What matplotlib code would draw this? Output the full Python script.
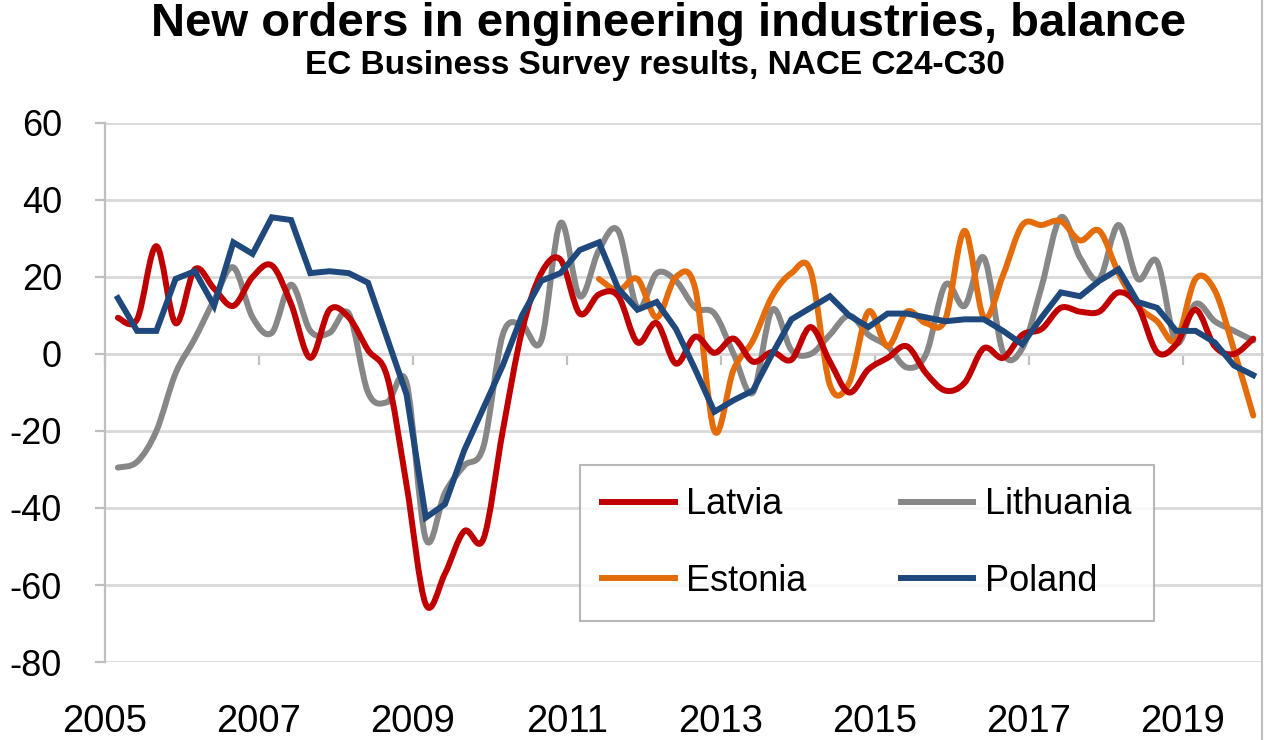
import numpy as np
import pandas as pd
import matplotlib
matplotlib.use("Agg")
import matplotlib.pyplot as plt
from matplotlib.path import Path
from matplotlib.patches import PathPatch
from matplotlib.lines import Line2D

plt.rcParams['font.family'] = ['Liberation Sans', 'DejaVu Sans']
plt.rcParams['axes.unicode_minus'] = False

# quarterly data 2005Q1 - 2019Q4, balance of replies
quarters = pd.period_range('2005Q1', '2019Q4', freq='Q')

latvia = [9.4, 9, 28, 8, 22, 17, 12.5, 20, 23, 13,
          -1, 11.5, 9.5, 1, -6, -34, -65, -57, -46, -48,
          -20, 6, 21, 24.5, 10.5, 15.5, 15, 3, 8, -2.5,
          4.5, 0.3, 4, -2, 0.5, -1.5, 7, -2, -10, -4,
          -1, 2, -5, -9.5, -7.5, 1.5, -1, 5, 6.5, 12,
          11, 11, 16, 12.5, 0.5, 2.5, 11.5, 2, 0, 4]

lithuania = [-29.5, -28, -20, -5, 4, 14, 22.5, 9.5, 5.5, 18,
             6, 5.5, 10.5, -10, -12.5, -7.5, -48, -36, -29, -24,
             5, 7.5, 3.5, 34, 15, 27, 32, 12, 21, 19,
             12, 10.5, 0, -10, 11.5, 1, 0, 5, 10, 5,
             2, -3.5, 0, 18, 12.5, 25, 0.5, 1.5, 17.5, 35.5,
             25, 19.5, 33.5, 19.5, 24, 3, 13, 8.5, 6, 3.5]

# Estonia series starts in 2011Q2
estonia = [np.nan] * 25 + [19.5, 16.5, 19.5, 9.5, 20,
                           17, -20, -4, 3.5, 15, 21, 21.5, -8, -7.5, 11,
                           2, 11, 8, 9, 32, 9.5, 20.5, 33.5, 33.5, 34.5,
                           29.5, 32, 21, 12.5, 8.5, 3.5, 19.5, 16.5, 1, -16]

poland = [14.5, 6, 6, 19.5, 21.5, 12.5, 29, 26, 35.5, 34.8,
          21, 21.5, 21, 18.5, 4, -10.5, -42.5, -39, -25, -14,
          -3, 10, 19, 21, 27, 29, 17, 11.5, 13.5, 6.5,
          -4, -15, -12, -9.5, 0, 9, 12, 15, 10, 7,
          10.5, 10.5, 9.5, 8.5, 9, 9, 6, 2.5, 9.5, 16,
          15, 19, 22, 13.5, 12, 6, 6, 3, -3, -5.5]

year_ticks = [2005, 2007, 2009, 2011, 2013, 2015, 2017, 2019]

# x position: end month of each quarter on a continuous year scale
x = np.array([q.year + (q.end_time.month - 1) / 12 for q in quarters])


def smooth_path(xs, ys):
    # Excel-like smoothed line: cubic bezier through each point
    m = ~np.isnan(ys)
    xs, ys = xs[m], ys[m]
    pts = np.column_stack([xs, ys])
    n = len(pts)
    verts = [pts[0]]
    codes = [Path.MOVETO]
    for k in range(n - 1):
        p0 = pts[k - 1] if k > 0 else pts[k]
        p1 = pts[k]
        p2 = pts[k + 1]
        p3 = pts[k + 2] if k + 2 < n else pts[k + 1]
        c1 = p1 + (p2 - p0) / 6
        c2 = p2 - (p3 - p1) / 6
        verts += [c1, c2, p2]
        codes += [Path.CURVE4] * 3
    return Path(verts, codes)


fig = plt.figure(figsize=(12.64, 7.40), dpi=100)
ax = fig.add_axes([0.0831, 0.1054, 0.9153, 0.7284])

lw = 4.3
c_lat, c_lit, c_est, c_pol = '#C00000', '#878787', '#E46C0A', '#1F497D'

for ser, col in [(lithuania, c_lit), (estonia, c_est), (latvia, c_lat)]:
    ax.add_patch(PathPatch(smooth_path(x, np.array(ser, dtype=float)),
                           facecolor='none', edgecolor=col, lw=lw,
                           joinstyle='round', capstyle='round', zorder=3))
ax.plot(x, poland, color=c_pol, lw=lw, solid_joinstyle='miter', zorder=4)

ax.set_xlim(2005, 2020.03)
ax.set_ylim(-80, 60)
ax.set_yticks(range(-80, 61, 20))
ax.grid(axis='y', color='#D9D9D9', lw=2)
ax.set_axisbelow(True)

for s in ['top', 'right', 'bottom']:
    ax.spines[s].set_visible(False)
ax.spines['left'].set_color('#BFBFBF')
ax.spines['left'].set_linewidth(1.6)

ax.tick_params(axis='y', labelsize=26, length=7, width=1.6, color='#BFBFBF', pad=24)
ax.set_xticks(year_ticks)
ax.set_xticklabels([str(y) for y in year_ticks])
ax.tick_params(axis='x', labelsize=27.5, length=0, pad=30)

# horizontal axis crosses at zero with its tick marks
sec = ax.secondary_xaxis(80 / 140)
sec.xaxis.set_ticks_position('bottom')
sec.set_xticks(year_ticks)
sec.set_xticklabels([])
sec.tick_params(axis='x', direction='out', length=8, width=1.6, color='#BFBFBF',
                labelbottom=False, labeltop=False)
for s in sec.spines.values():
    s.set_visible(False)
sec.spines['bottom'].set_visible(True)
sec.spines['bottom'].set_color('#D0D0D0')
sec.spines['bottom'].set_linewidth(2)

handles = [Line2D([], [], color=c_lat, lw=lw), Line2D([], [], color=c_est, lw=lw),
           Line2D([], [], color=c_lit, lw=lw), Line2D([], [], color=c_pol, lw=lw)]
labels = ['Latvia', 'Estonia', 'Lithuania', 'Poland']
leg = ax.legend(handles, labels, ncol=2, loc='upper left', bbox_to_anchor=(0.4105, 0.3655),
                fontsize=26, frameon=True, fancybox=False, handlelength=2.0,
                handletextpad=0.33, columnspacing=2.6, labelspacing=1.15,
                borderpad=0.62, borderaxespad=0)
leg.get_frame().set_edgecolor('#A6A6A6')
leg.get_frame().set_linewidth(1.5)
leg.set_zorder(5)

fig.text(0.529, 0.968, 'New orders in engineering industries, balance',
         ha='center', va='center', fontsize=34, fontweight='bold')
fig.text(0.518, 0.912, 'EC Business Survey results, NACE C24-C30',
         ha='center', va='center', fontsize=24, fontweight='bold')

fig.add_artist(Line2D([0.9988, 0.9988], [0, 1], transform=fig.transFigure,
                      color='#BFBFBF', lw=1.5))

fig.savefig('out.png', dpi=100)
